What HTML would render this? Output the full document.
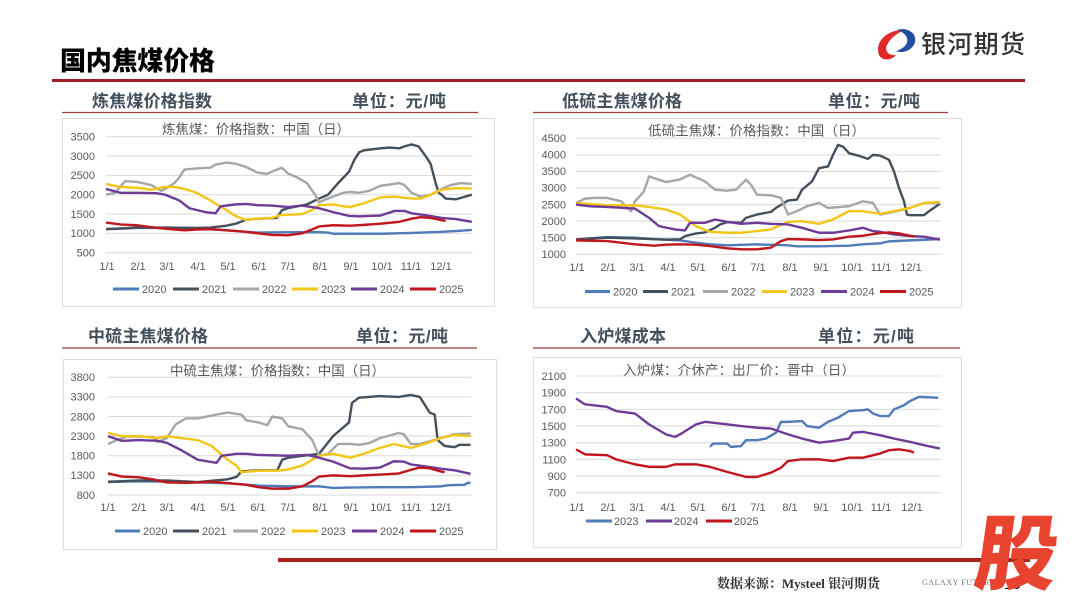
<!DOCTYPE html>
<html><head><meta charset="utf-8"><style>
html,body{margin:0;padding:0;background:#fff;}
svg{display:block;}
.ax{font-family:"Liberation Sans","Noto Sans CJK SC",sans-serif;font-size:11px;fill:#595959;}
.tt{font-family:"Liberation Sans","Noto Sans CJK SC",sans-serif;font-size:13.5px;fill:#595959;}
.hd{font-family:"Liberation Sans","Noto Sans CJK SC",sans-serif;font-size:17px;font-weight:bold;fill:#434f5b;}
.g{fill:none;stroke:#d9d9d9;stroke-width:1;vector-effect:non-scaling-stroke;}
.s{fill:none;stroke-width:2.4;stroke-linejoin:round;vector-effect:non-scaling-stroke;}
.c0{stroke:#4f7cb8}.c1{stroke:#44505c}.c2{stroke:#a6a6a6}.c3{stroke:#f2c617}.c4{stroke:#6e3c96}.c5{stroke:#c0161e}
.lg{stroke-width:3;}
</style></head><body>
<svg width="1080" height="608" viewBox="0 0 1080 608" xmlns="http://www.w3.org/2000/svg">
<rect width="1080" height="608" fill="#fff"/>

<!-- Title -->
<text x="60" y="70" font-family="Liberation Sans, Noto Sans CJK SC, sans-serif" font-size="26" font-weight="900" fill="#000" textLength="155">国内焦煤价格</text>
<rect x="52" y="79" width="973" height="3" fill="#a31f24"/>

<!-- Logo -->
<path d="M904 30 C888 29 874 42 879 55 C882 61 891 61 896 55 C889 56 884 51 887 45 C891 37 898 33 904 30 Z" fill="#e02a2a"/>
<path d="M897 30 C906 27 917 32 915 42 C913 50 903 54 896 51 C903 49 909 44 907 38 C905 33 900 31 897 30 Z" fill="#1f4ea1"/>
<text x="921" y="53" font-family="Liberation Sans, Noto Sans CJK SC, sans-serif" font-size="25" font-weight="500" fill="#333" textLength="104">银河期货</text>

<!-- Section headers -->
<text class="hd" x="92" y="107" textLength="120">炼焦煤价格指数</text>
<text class="hd" x="352" y="107" textLength="94">单位：元/吨</text>
<line x1="62" y1="112.5" x2="478" y2="112.5" stroke="#9e3b3b" stroke-width="1.2"/>

<text class="hd" x="562" y="107" textLength="120">低硫主焦煤价格</text>
<text class="hd" x="828" y="107" textLength="92">单位：元/吨</text>
<line x1="533" y1="112.5" x2="948" y2="112.5" stroke="#9e3b3b" stroke-width="1.2"/>

<text class="hd" x="88" y="342" textLength="120">中硫主焦煤价格</text>
<text class="hd" x="356" y="342" textLength="92">单位：元/吨</text>
<line x1="62" y1="348" x2="477" y2="348" stroke="#9e3b3b" stroke-width="1.2"/>

<text class="hd" x="580" y="342" textLength="86">入炉煤成本</text>
<text class="hd" x="818" y="342" textLength="96">单位：元/吨</text>
<line x1="533" y1="348" x2="960" y2="348" stroke="#9e3b3b" stroke-width="1.2"/>

<!-- Panels -->
<rect x="62.5" y="118.5" width="432" height="188" fill="#fff" stroke="#dcdcdc"/>
<rect x="533.5" y="118.5" width="428" height="189" fill="#fff" stroke="#dcdcdc"/>
<rect x="63.5" y="359.5" width="433" height="190" fill="#fff" stroke="#dcdcdc"/>
<rect x="533.5" y="357.5" width="428" height="190" fill="#fff" stroke="#e6d6e0"/>

<!-- ===== Chart 1 ===== -->
<text class="tt" x="162" y="134" textLength="188">炼焦煤：价格指数：中国（日）</text>
<g class="ax" text-anchor="end">
<text x="95" y="140.5">3500</text><text x="95" y="159.8">3000</text><text x="95" y="179.2">2500</text><text x="95" y="198.5">2000</text><text x="95" y="217.8">1500</text><text x="95" y="237.2">1000</text><text x="95" y="256.5">500</text>
</g>
<g class="ax" text-anchor="middle">
<text x="107" y="270">1/1</text><text x="138" y="270">2/1</text><text x="167" y="270">3/1</text><text x="198" y="270">4/1</text><text x="228" y="270">5/1</text><text x="259" y="270">6/1</text><text x="288" y="270">7/1</text><text x="320" y="270">8/1</text><text x="351" y="270">9/1</text><text x="382" y="270">10/1</text><text x="411" y="270">11/1</text><text x="441" y="270">12/1</text>
</g>
<g transform="matrix(1.005 0 0 -0.03866 106 272.03)">
<path class="g" d="M0 500H365M0 1000H365M0 1500H365M0 2000H365M0 2500H365M0 3000H365M0 3500H365"/>
<polyline class="s c0" points="0,1110 14,1120 31,1140 59,1140 90,1130 120,1080 151,1020 181,1030 212,1030 221,1020 226,990 243,990 273,990 304,1010 334,1040 348,1060 364,1090"/>
<polyline class="s c1" points="0,1110 31,1150 59,1150 90,1140 104,1150 120,1200 129,1250 139,1350 151,1380 170,1400 175,1600 181,1650 200,1750 212,1900 221,2000 231,2300 242,2600 247,2900 252,3100 257,3150 273,3200 282,3220 292,3200 297,3250 304,3300 311,3250 318,3000 323,2800 328,2300 331,2050 334,2000 338,1900 348,1880 364,2000"/>
<polyline class="s c2" points="0,2000 9,2050 19,2350 31,2330 45,2250 55,2100 59,2150 68,2300 73,2450 78,2650 90,2680 104,2700 109,2780 120,2830 129,2800 139,2720 151,2570 160,2540 170,2650 175,2700 181,2550 190,2450 200,2300 208,2000 212,1800 216,1850 226,1950 236,2050 243,2070 252,2050 262,2100 273,2230 292,2300 297,2250 304,2050 313,1950 323,2000 334,2150 343,2250 353,2300 364,2280"/>
<polyline class="s c3" points="0,2280 14,2200 31,2180 45,2130 59,2200 68,2200 78,2150 90,2050 104,1850 120,1600 129,1450 139,1350 151,1380 165,1400 175,1480 181,1480 195,1500 205,1600 212,1730 226,1750 236,1700 243,1680 257,1780 273,1930 287,1950 304,1900 313,1900 323,2000 334,2130 348,2170 364,2160"/>
<polyline class="s c4" points="0,2150 14,2050 31,2050 50,2040 59,2000 73,1850 83,1650 99,1550 109,1520 114,1700 129,1750 139,1760 151,1730 165,1720 181,1680 195,1720 212,1650 226,1550 242,1450 252,1440 273,1460 287,1580 297,1580 304,1520 318,1470 334,1400 348,1370 364,1300"/>
<polyline class="s c5" points="0,1280 14,1230 31,1210 45,1160 59,1120 78,1080 90,1100 104,1110 120,1080 139,1040 151,1000 165,960 181,950 195,1000 205,1100 212,1180 226,1210 243,1200 257,1220 273,1250 292,1300 304,1380 313,1420 323,1400 334,1340 338,1320"/>
</g>
<g class="ax">
<line class="c0 lg" x1="113" y1="289" x2="139" y2="289"/><text x="142" y="293">2020</text>
<line class="c1 lg" x1="173" y1="289" x2="199" y2="289"/><text x="202" y="293">2021</text>
<line class="c2 lg" x1="233" y1="289" x2="259" y2="289"/><text x="262" y="293">2022</text>
<line class="c3 lg" x1="292" y1="289" x2="318" y2="289"/><text x="321" y="293">2023</text>
<line class="c4 lg" x1="351" y1="289" x2="377" y2="289"/><text x="380" y="293">2024</text>
<line class="c5 lg" x1="410" y1="289" x2="436" y2="289"/><text x="439" y="293">2025</text>
</g>

<!-- ===== Chart 2 ===== -->
<text class="tt" x="648" y="135.5" textLength="217">低硫主焦煤：价格指数：中国（日）</text>
<g class="ax" text-anchor="end">
<text x="566" y="142">4500</text><text x="566" y="158.6">4000</text><text x="566" y="175.2">3500</text><text x="566" y="191.7">3000</text><text x="566" y="208.3">2500</text><text x="566" y="224.9">2000</text><text x="566" y="241.4">1500</text><text x="566" y="258">1000</text>
</g>
<g class="ax" text-anchor="middle">
<text x="577" y="271">1/1</text><text x="608" y="271">2/1</text><text x="637" y="271">3/1</text><text x="668" y="271">4/1</text><text x="698" y="271">5/1</text><text x="729" y="271">6/1</text><text x="758" y="271">7/1</text><text x="790" y="271">8/1</text><text x="821" y="271">9/1</text><text x="852" y="271">10/1</text><text x="881" y="271">11/1</text><text x="911" y="271">12/1</text>
</g>
<g transform="matrix(1 0 0 -0.03314 576 287.44)">
<path class="g" d="M0 1000H365M0 1500H365M0 2000H365M0 2500H365M0 3000H365M0 3500H365M0 4000H365M0 4500H365"/>
<polyline class="s c0" points="0,1430 14,1480 31,1520 59,1500 73,1470 90,1440 104,1420 120,1350 134,1300 151,1270 181,1300 212,1270 221,1240 243,1240 273,1260 287,1300 304,1330 313,1390 334,1420 364,1460"/>
<polyline class="s c1" points="0,1450 14,1480 31,1500 59,1480 90,1440 104,1450 109,1550 120,1630 129,1660 139,1800 144,1900 151,1970 165,1950 170,2100 181,2200 195,2280 200,2400 212,2620 221,2650 226,2950 236,3200 243,3600 252,3650 257,4000 262,4300 267,4250 273,4050 282,3980 292,3880 297,4000 304,3980 313,3850 318,3500 323,3000 328,2600 331,2200 334,2180 348,2180 353,2300 364,2530"/>
<polyline class="s c2" points="0,2550 9,2680 19,2700 31,2700 45,2600 55,2300 59,2600 68,2900 73,3350 78,3300 90,3180 104,3260 109,3330 114,3400 120,3320 129,3200 139,2950 151,2920 160,2950 170,3250 175,3100 181,2800 195,2780 205,2700 212,2200 221,2300 231,2450 243,2550 252,2400 273,2450 287,2600 297,2550 304,2200 313,2250 334,2400 348,2550 364,2550"/>
<polyline class="s c3" points="0,2550 31,2480 59,2480 73,2430 90,2350 104,2200 120,1850 134,1680 151,1650 165,1650 181,1700 195,1750 212,1980 226,2000 243,1920 257,2050 273,2300 287,2300 304,2220 318,2300 334,2400 348,2550 364,2580"/>
<polyline class="s c4" points="0,2500 14,2450 31,2430 59,2380 73,2100 83,1850 99,1750 109,1720 114,1950 129,1950 139,2050 151,1980 165,1920 181,1950 195,1920 212,1900 226,1800 243,1650 257,1650 273,1720 287,1800 297,1700 304,1680 318,1600 334,1550 348,1530 364,1440"/>
<polyline class="s c5" points="0,1420 31,1400 59,1300 78,1260 90,1290 104,1300 120,1290 134,1250 151,1180 165,1150 181,1150 195,1200 205,1400 212,1460 226,1450 243,1430 257,1450 273,1530 287,1560 304,1640 313,1660 323,1630 334,1560 338,1540"/>
</g>
<g class="ax">
<line class="c0 lg" x1="585" y1="291.5" x2="610" y2="291.5"/><text x="613" y="295.5">2020</text>
<line class="c1 lg" x1="643" y1="291.5" x2="668" y2="291.5"/><text x="671" y="295.5">2021</text>
<line class="c2 lg" x1="703" y1="291.5" x2="728" y2="291.5"/><text x="731" y="295.5">2022</text>
<line class="c3 lg" x1="762" y1="291.5" x2="787" y2="291.5"/><text x="790" y="295.5">2023</text>
<line class="c4 lg" x1="821" y1="291.5" x2="847" y2="291.5"/><text x="850" y="295.5">2024</text>
<line class="c5 lg" x1="880" y1="291.5" x2="906" y2="291.5"/><text x="909" y="295.5">2025</text>
</g>

<!-- ===== Chart 3 ===== -->
<text class="tt" x="170" y="375.5" textLength="215">中硫主焦煤：价格指数：中国（日）</text>
<g class="ax" text-anchor="end">
<text x="95" y="381">3800</text><text x="95" y="400.6">3300</text><text x="95" y="420.3">2800</text><text x="95" y="439.9">2300</text><text x="95" y="459.5">1800</text><text x="95" y="479.2">1300</text><text x="95" y="498.8">800</text>
</g>
<g class="ax" text-anchor="middle">
<text x="108" y="511">1/1</text><text x="139" y="511">2/1</text><text x="167" y="511">3/1</text><text x="198" y="511">4/1</text><text x="228" y="511">5/1</text><text x="258" y="511">6/1</text><text x="288" y="511">7/1</text><text x="320" y="511">8/1</text><text x="351" y="511">9/1</text><text x="381" y="511">10/1</text><text x="411" y="511">11/1</text><text x="441" y="511">12/1</text>
</g>
<g transform="matrix(0.996 0 0 -0.03924 108 526.39)">
<path class="g" d="M0 800H365M0 1300H365M0 1800H365M0 2300H365M0 2800H365M0 3300H365M0 3800H365"/>
<polyline class="s c0" points="0,1130 31,1150 59,1140 90,1120 120,1100 151,1040 181,1020 212,1020 226,980 243,990 273,1000 304,1000 334,1020 343,1050 358,1060 361,1110 364,1110"/>
<polyline class="s c1" points="0,1140 31,1170 59,1170 90,1130 120,1200 129,1260 134,1400 151,1430 170,1430 175,1700 181,1750 212,1850 226,2300 242,2650 245,3150 252,3280 273,3320 292,3300 304,3350 313,3300 323,2900 328,2850 331,2200 338,2050 348,2020 353,2080 364,2080"/>
<polyline class="s c2" points="0,2100 9,2200 19,2290 31,2290 45,2280 50,2150 59,2250 68,2600 78,2750 90,2750 109,2850 120,2900 134,2850 139,2700 151,2650 160,2580 165,2800 175,2750 181,2550 195,2480 205,2200 212,1800 221,1850 231,2100 243,2100 252,2080 262,2120 273,2250 292,2380 297,2350 304,2100 313,2100 334,2250 348,2350 364,2370"/>
<polyline class="s c3" points="0,2380 14,2300 31,2300 50,2250 59,2300 73,2250 90,2200 104,2050 120,1700 129,1550 134,1380 151,1420 170,1420 181,1450 195,1550 212,1800 226,1850 243,1750 257,1850 273,2000 287,2100 304,2000 318,2100 334,2250 348,2330 364,2300"/>
<polyline class="s c4" points="0,2300 14,2180 31,2200 50,2180 59,2130 73,1950 90,1700 104,1640 109,1620 114,1800 129,1850 139,1850 151,1820 181,1800 200,1820 212,1750 226,1650 243,1480 257,1470 273,1500 287,1660 297,1650 304,1580 318,1530 334,1470 348,1430 364,1340"/>
<polyline class="s c5" points="0,1350 14,1270 31,1250 45,1200 59,1120 78,1110 90,1120 104,1140 120,1100 139,1060 151,1000 165,960 181,960 195,1020 205,1150 212,1270 226,1300 243,1280 257,1300 273,1320 292,1350 304,1440 313,1500 323,1480 334,1400 338,1380"/>
</g>
<g class="ax">
<line class="c0 lg" x1="115" y1="531" x2="140" y2="531"/><text x="143" y="535">2020</text>
<line class="c1 lg" x1="173" y1="531" x2="199" y2="531"/><text x="202" y="535">2021</text>
<line class="c2 lg" x1="233" y1="531" x2="258" y2="531"/><text x="261" y="535">2022</text>
<line class="c3 lg" x1="292" y1="531" x2="318" y2="531"/><text x="321" y="535">2023</text>
<line class="c4 lg" x1="352" y1="531" x2="377" y2="531"/><text x="380" y="535">2024</text>
<line class="c5 lg" x1="410" y1="531" x2="436" y2="531"/><text x="439" y="535">2025</text>
</g>

<!-- ===== Chart 4 ===== -->
<text class="tt" x="623" y="375" textLength="232">入炉煤：介休产：出厂价：晋中（日）</text>
<g class="ax" text-anchor="end">
<text x="566" y="380">2100</text><text x="566" y="396.7">1900</text><text x="566" y="413.4">1700</text><text x="566" y="430">1500</text><text x="566" y="446.7">1300</text><text x="566" y="463.4">1100</text><text x="566" y="480">900</text><text x="566" y="496.7">700</text>
</g>
<g class="ax" text-anchor="middle">
<text x="577" y="511">1/1</text><text x="608" y="511">2/1</text><text x="637" y="511">3/1</text><text x="668" y="511">4/1</text><text x="698" y="511">5/1</text><text x="729" y="511">6/1</text><text x="758" y="511">7/1</text><text x="790" y="511">8/1</text><text x="821" y="511">9/1</text><text x="852" y="511">10/1</text><text x="881" y="511">11/1</text><text x="912" y="511">12/1</text>
</g>
<g transform="matrix(1 0 0 -0.08333 576 551.03)">
<path class="g" d="M0 700H365M0 900H365M0 1100H365M0 1300H365M0 1500H365M0 1700H365M0 1900H365M0 2100H365"/>
<polyline class="s c0" points="134,1250 137,1290 151,1290 155,1250 165,1260 170,1330 181,1330 190,1350 200,1420 205,1550 212,1550 226,1560 231,1500 243,1480 252,1550 262,1600 273,1680 287,1690 292,1700 297,1650 304,1620 313,1620 318,1700 328,1750 334,1800 343,1850 361,1840 362,1830"/>
<polyline class="s c4" points="0,1830 9,1760 31,1730 40,1680 59,1650 73,1520 90,1400 99,1370 104,1400 120,1520 129,1550 151,1520 165,1500 181,1480 195,1470 212,1400 226,1350 243,1300 257,1320 273,1350 277,1420 287,1430 304,1390 318,1350 334,1310 348,1270 364,1230"/>
<polyline class="s c5" points="0,1220 9,1160 31,1150 40,1100 59,1040 73,1010 90,1010 99,1040 120,1040 134,1010 151,950 170,890 181,890 195,940 205,1000 212,1080 226,1100 243,1100 257,1080 273,1120 287,1120 304,1170 313,1210 323,1220 334,1200 338,1180"/>
</g>
<g class="ax">
<line class="c0 lg" x1="586" y1="521" x2="612" y2="521"/><text x="614" y="525">2023</text>
<line class="c4 lg" x1="646" y1="521" x2="672" y2="521"/><text x="674" y="525">2024</text>
<line class="c5 lg" x1="706" y1="521" x2="732" y2="521"/><text x="734" y="525">2025</text>
</g>

<!-- Footer -->
<rect x="278" y="558" width="752" height="4" fill="#a8201a"/>
<text x="717" y="588" font-family="Liberation Serif, Noto Serif CJK SC, serif" font-size="13" font-weight="bold" fill="#333" textLength="163">数据来源：Mysteel 银河期货</text>
<text x="922" y="585" font-family="Liberation Serif, serif" font-size="8" fill="#777" textLength="78">GALAXY FUTURES</text>
<text x="1004" y="589" font-family="Liberation Sans, sans-serif" font-size="15" fill="#111">16</text>
<text x="0" y="0" transform="translate(972 583) skewX(-8)" font-family="Noto Sans CJK SC, WenQuanYi Zen Hei, sans-serif" font-size="82" font-weight="900" fill="#e8432e">股</text>
</svg>
</body></html>
